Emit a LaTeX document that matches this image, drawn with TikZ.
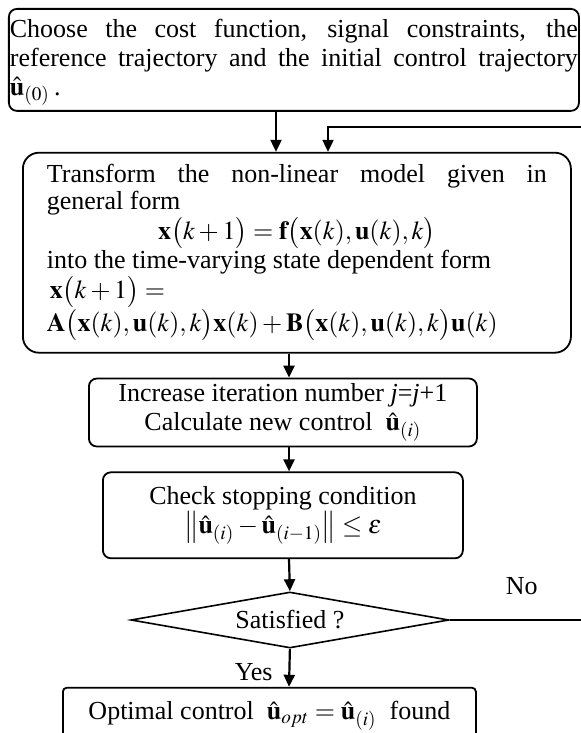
\documentclass[tikz,border=0pt]{standalone}
\usepackage{mathptmx}
\usepackage[no-math]{fontspec}
\setmainfont{Liberation Serif}
\usepackage{amsmath}
\usetikzlibrary{shapes.geometric, arrows.meta, positioning, calc}
\newcommand{\nodefont}{\fontsize{13}{14.5}\selectfont}
\newcommand{\uhat}{\hat{\mathbf{u}}}
\hyphenpenalty=10000
\exhyphenpenalty=10000
\tolerance=9999
\tikzset{
    widebox/.style={
        rectangle, draw, line width=0.9pt, rounded corners=4pt,
        align=justify, font=\nodefont
    },
    stepbox/.style={
        rectangle, draw, line width=0.9pt, rounded corners=4pt,
        align=center, font=\nodefont, inner sep=2pt
    },
    decision/.style={
        diamond, draw, line width=0.8pt, aspect=5.7, inner sep=0pt,
        font=\nodefont
    },
    lbl/.style={font=\nodefont, inner sep=1pt},
    arrow/.style={-{Triangle[length=6pt,width=5.5pt]}, line width=1.1pt}
}

\begin{document}
\begin{tikzpicture}

% Frame of the picture
\useasboundingbox (-4pt,4pt) rectangle (286.5pt,-362.5pt);

% Columns of the connectors
\coordinate (col) at (140.5pt,0);
\coordinate (join) at (134pt,0);
\coordinate (back) at (160pt,-59.5pt);
\coordinate (edge) at (296pt,0);

% Set-up
\node[widebox, anchor=north west, text width=284pt, inner xsep=0.5pt,
      inner ysep=0pt, minimum height=51pt] (choose) at (0,0)
    {\rule{0pt}{11.5pt}Choose the cost function, signal constraints, the reference trajectory
     and the initial control trajectory $\uhat_{(0)}$\,.};

% Model transformation
\node[widebox, below=20pt of choose, xshift=1.5pt, rounded corners=8pt,
      text width=250pt, inner xsep=12pt, inner ysep=1pt,
      minimum height=100pt] (trans)
    {\fontsize{13}{13.5}\selectfont
     Transform the non-linear model given in\linebreak general form\par
     \centerline{$\mathbf{x}\bigl(k+1\bigr)=\mathbf{f}\bigl(\mathbf{x}(k),\mathbf{u}(k),k\bigr)$}
     into the time-varying state dependent form\par
     $\,\mathbf{x}\bigl(k+1\bigr)=$\par
     \makebox[\linewidth][l]{$\mathbf{A}\bigl(\mathbf{x}(k),\mathbf{u}(k),k\bigr)\mathbf{x}(k)+\mathbf{B}\bigl(\mathbf{x}(k),\mathbf{u}(k),k\bigr)\mathbf{u}(k)$}};

% Iteration
\node[stepbox, below=12pt of trans, xshift=-7pt, minimum width=194pt,
      minimum height=34pt] (incr)
    {Increase iteration number \textit{j}=\textit{j}+1\\
     Calculate new control \ $\uhat_{(i)}$};

% Stopping test
\node[stepbox, below=12pt of incr, minimum width=180pt,
      minimum height=43pt] (check)
    {Check stopping condition\\
     $\left\|\uhat_{(i)}-\uhat_{(i-1)}\right\|\le\varepsilon$};

\node[decision, below=16pt of check, xshift=3.5pt, minimum width=159pt,
      minimum height=28pt] (sat) {Satisfied ?};

% Result
\node[stepbox, below=19pt of sat, xshift=-10.25pt, rounded corners=2pt,
      minimum width=206.5pt, minimum height=28pt] (final)
    {Optimal control \ $\uhat_{opt}=\uhat_{(i)}$ \ found};

% Labels
\node[lbl, anchor=base] (no) at ([xshift=36pt, yshift=13pt]sat.east) {No};

% Arrows
\draw[arrow] (choose.south -| join) -- (trans.north -| join);
\draw[arrow] (trans.south -| col) -- (incr.north -| col);
\draw[arrow] (incr.south -| col) -- (check.north -| col);
\draw[arrow] (check.south -| col) -- (sat.north);
\draw[arrow] (sat.south) -- (final.north -| col);
\draw[arrow] (sat.east) -| (edge |- back) -| (trans.north -| back);

\node[lbl, fill=white, anchor=base east] (yes)
    at ([xshift=-7pt, yshift=3pt]final.north -| col) {Yes};

\end{tikzpicture}
\end{document}
